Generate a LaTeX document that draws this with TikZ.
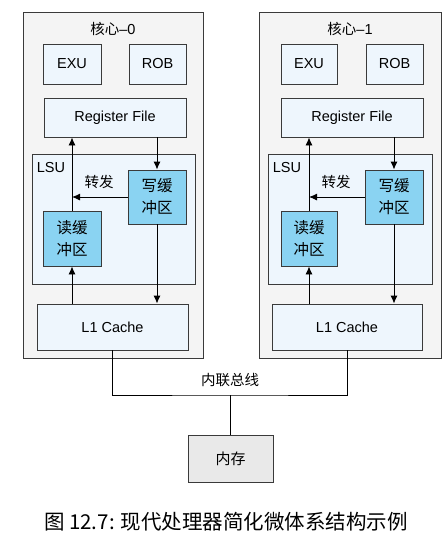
\documentclass[tikz,border=0pt]{standalone}
\usepackage{fontspec}
\setmainfont{Liberation Sans}
\newfontfamily\cjk{Noto Sans CJK SC}
\usepackage{tikz}
\usetikzlibrary{arrows,arrows.meta,positioning}
\usepackage{xcolor}
\definecolor{coregray}{HTML}{F4F4F4}
\definecolor{unitblue}{HTML}{EEF6FD}
\definecolor{bufblue}{HTML}{8AD3F2}
\definecolor{memgray}{HTML}{E9E9E9}
\definecolor{edgegray}{HTML}{3A3A3A}

\begin{document}
\begin{tikzpicture}[x=1pt,y=-1pt,>={Latex[length=8pt,width=7pt]},
  core/.style={draw=edgegray,fill=coregray,line width=0.9pt,inner sep=0pt},
  unit/.style={draw=edgegray,fill=unitblue,line width=0.9pt,inner sep=0pt,
    font=\fontsize{14.5}{16}\selectfont},
  buffer/.style={draw=edgegray,fill=bufblue,line width=0.9pt,inner sep=0pt,
    align=center,font=\fontsize{15.5}{22}\selectfont\cjk},
  label/.style={font=\fontsize{14.5}{16}\selectfont},
  flow/.style={->,line width=0.9pt}]
\useasboundingbox (0,0) rectangle (447,546);
% core 0
\node (core0) at (113,185) [core,minimum width=180,minimum height=346] {};
\node (title0) at (113,29) [label] {{\cjk 核心}--0};
\node (exu0) at (72,64) [unit,minimum width=58,minimum height=40] {EXU};
\node (rob0) at (157.5,64) [unit,minimum width=57,minimum height=40] {ROB};
\node (rf0) at (115,117.5) [unit,minimum width=142,minimum height=39] {Register File};
\node (lsu0) at (113.5,219) [unit,minimum width=163,minimum height=130] {};
\node (lsutag0) at (51,168) [label] {LSU};
\node (wb0) at (157,197) [buffer,minimum width=58,minimum height=54] {写缓\\冲区};
\node (rb0) at (72,238.5) [buffer,minimum width=58,minimum height=55] {读缓\\冲区};
\node (l10) at (112.5,327) [unit,minimum width=151,minimum height=46] {L1 Cache};
\coordinate (fwd0) at (rb0.north |- wb0.west);
\node (fwdtag0) at (99,182) [label] {\cjk 转发};
\draw [flow] (rb0.north) -- (rb0.north |- rf0.south);
\draw [flow] (wb0.west) -- (fwd0);
\draw [flow] (wb0.north |- rf0.south) -- (wb0.north);
\draw [flow] (wb0.south) -- (wb0.south |- l10.north);
\draw [flow] (rb0.south |- l10.north) -- (rb0.south);
% core 1
\node (core1) at (350,185) [core,minimum width=182,minimum height=346] {};
\node (title1) at (350,29) [label] {{\cjk 核心}--1};
\node (exu1) at (309,64) [unit,minimum width=56,minimum height=40] {EXU};
\node (rob1) at (394.5,64) [unit,minimum width=57,minimum height=40] {ROB};
\node (rf1) at (352,117.5) [unit,minimum width=142,minimum height=39] {Register File};
\node (lsu1) at (350,219) [unit,minimum width=164,minimum height=130] {};
\node (lsutag1) at (287,168) [label] {LSU};
\node (wb1) at (394,197) [buffer,minimum width=58,minimum height=54] {写缓\\冲区};
\node (rb1) at (309,238.5) [buffer,minimum width=56,minimum height=55] {读缓\\冲区};
\node (l11) at (347,327) [unit,minimum width=150,minimum height=46] {L1 Cache};
\coordinate (fwd1) at (rb1.north |- wb1.west);
\node (fwdtag1) at (336,182) [label] {\cjk 转发};
\draw [flow] (rb1.north) -- (rb1.north |- rf1.south);
\draw [flow] (wb1.west) -- (fwd1);
\draw [flow] (wb1.north |- rf1.south) -- (wb1.north);
\draw [flow] (wb1.south) -- (wb1.south |- l11.north);
\draw [flow] (rb1.south |- l11.north) -- (rb1.south);
% bus and memory
\node (mem) at (230.5,458.5) [draw=edgegray,fill=memgray,line width=0.9pt,
  minimum width=85,minimum height=47,font=\fontsize{15}{16}\selectfont\cjk] {内存};
\coordinate (bus) at (mem.north |- 0,395);
\node (bustag) at (230,380) [label] {\cjk 内联总线};
\draw [line width=0.9pt] (l10.south) |- (bus) -| (l11.south);
\draw [line width=0.9pt] (bus) -- (mem.north);
\node (caption) at (226,522) [font=\fontsize{20.5}{22}\selectfont\cjk]
  {图 12.7: 现代处理器简化微体系结构示例};
\end{tikzpicture}
\end{document}
